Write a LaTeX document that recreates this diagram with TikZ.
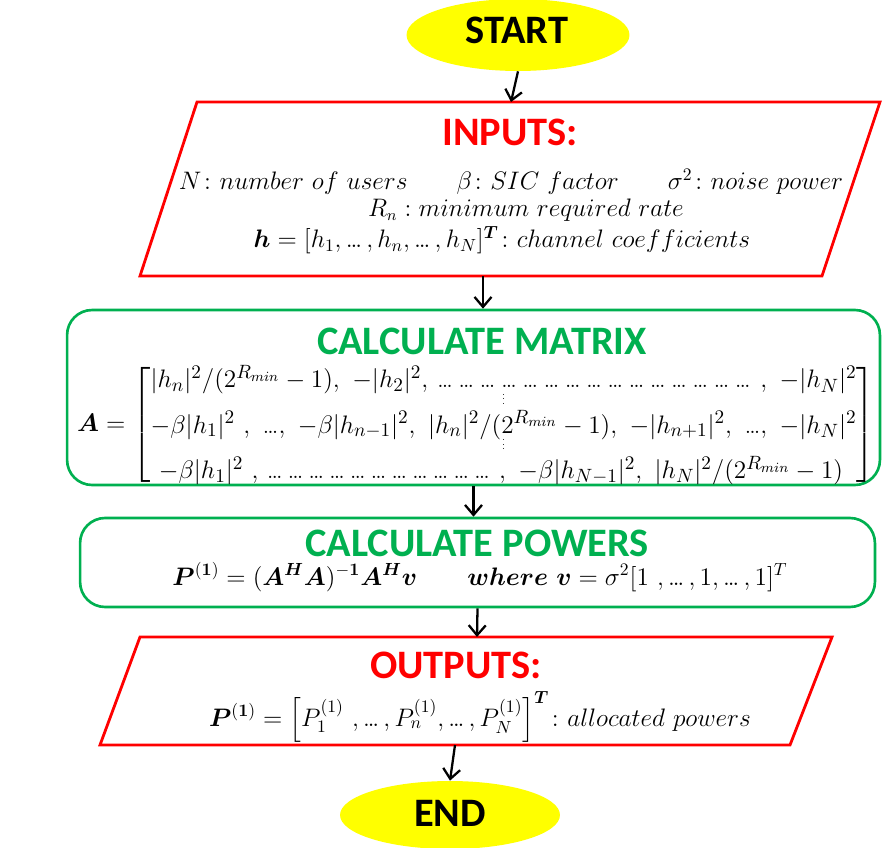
\documentclass[tikz,border=0pt]{standalone}
\usepackage{amsmath,amssymb}
\usepackage{bm}
\usepackage{fontspec}
\newfontfamily\headfont{Carlito}
\usepackage{xcolor}
\definecolor{chartred}{RGB}{255,0,0}
\definecolor{chartgreen}{RGB}{0,176,80}
\definecolor{chartyellow}{RGB}{255,255,0}
\usetikzlibrary{shapes.geometric,arrows.meta,positioning,calc}

% compact ellipsis, a row of them, and short vertical dots
\newcommand{\hd}{\text{…}}
\newcommand{\dotrun}{\xleaders\hbox{…\,}\hfill}
\newcommand{\vd}{\vbox{\baselineskip2.6pt\lineskiplimit0pt\hbox{\tiny.}\hbox{\tiny.}\hbox{\tiny.}}}

\tikzset{
  terminal/.style={ellipse,fill=chartyellow,draw=none,minimum width=4.46cm,minimum height=1.44cm,inner sep=0pt},
  termtext/.style={font=\headfont\bfseries\fontsize{23}{26}\selectfont,anchor=base,inner sep=0pt},
  ioline/.style={draw=chartred,line width=1.6pt,line join=miter},
  procbox/.style={rectangle,rounded corners=0.5cm,draw=chartgreen,line width=1.5pt,inner sep=0pt},
  iohead/.style={font=\headfont\bfseries\fontsize{23}{26}\selectfont,text=chartred,anchor=base,inner sep=0pt},
  prochead/.style={font=\headfont\bfseries\fontsize{23}{26}\selectfont,text=chartgreen,anchor=base,inner sep=0pt},
  mathline/.style={font=\fontsize{14}{17}\selectfont,anchor=base,inner sep=0pt},
  flow/.style={-{Straight Barb[length=2mm,width=3.4mm]},line width=1.3pt},
}

\begin{document}
\begin{tikzpicture}[x=0.02cm,y=-0.02cm]
\useasboundingbox (0,0) rectangle (884,847);

% terminals
\node[terminal] (start) at (518,35) {};
\node[termtext] (starttext) at (517,44) {START};
\node[terminal,minimum width=4.4cm,minimum height=1.36cm] (end) at (450,815) {};
\node[termtext] (endtext) at (450,826) {END};

% inputs
\draw[ioline] (197,102) -- (880,102) -- (822,276) -- (140,276) -- cycle;
\coordinate (intop) at (511,102);
\coordinate (inbot) at (483,276);
\node[iohead] (inputshead) at (510,146) {INPUTS:};
\node[mathline] (inputsA) at (511,190) {$N\colon number\ of\ users\qquad \beta\colon SIC\ factor\qquad \sigma^2\colon noise\ power$};
\node[mathline,font=\fontsize{13.3}{16}\selectfont] (inputsB) at (526,217) {$R_n : minimum\ required\ rate$};
\node[mathline,font=\fontsize{14.4}{17}\selectfont] (inputsC) at (502,248) {$\bm{h}=[h_1,\hd\,,h_n,\hd\,,h_N]^{\bm{T}}\colon channel\ coefficients$};

% matrix
\node[procbox,minimum width=16.26cm,minimum height=3.5cm] (calc) at (473.5,397.5) {};
\node[prochead] (calchead) at (482,354) {CALCULATE MATRIX};
\node[font=\fontsize{15.5}{17}\selectfont,inner sep=0pt] (calcmat) at (476,425) {%
$\renewcommand{\arraystretch}{0.5}\displaystyle
\bm{A}=\left[\begin{array}{@{}l@{}}
|h_n|^2/(2^{R_{min}}-1),\ -|h_2|^2,\ \dotrun,\ -|h_N|^2\\
\multicolumn{1}{c}{\vd}\\[1pt]
-\beta|h_1|^2\ ,\ \hd,\ -\beta|h_{n-1}|^2,\ |h_n|^2/(2^{R_{min}}-1),\ -|h_{n+1}|^2,\ \hd,\ -|h_N|^2\\
\multicolumn{1}{c}{\vd}\\[1pt]
\ -\beta|h_1|^2\ ,\ \dotrun,\ -\beta|h_{N-1}|^2,\ |h_N|^2/(2^{R_{min}}-1)\hspace{0.5em}
\end{array}\right]$};

% powers
\node[procbox,minimum width=15.9cm,minimum height=1.78cm] (powers) at (477.5,562.5) {};
\node[prochead] (powershead) at (477,556) {CALCULATE POWERS};
\node[mathline,font=\fontsize{14.3}{17}\selectfont] (powersmath) at (480,585) {$\bm{P}^{(\bm{1})}=(\bm{A}^{\bm{H}}\bm{A})^{-\bm{1}}\bm{A}^{\bm{H}}\bm{v}\qquad\bm{where}\ \bm{v}=\sigma^2[1\ ,\hd\,,1,\hd\,,1]^T$};

% outputs
\draw[ioline] (140,637) -- (832,637) -- (790,745) -- (100,745) -- cycle;
\coordinate (outtop) at (477,637);
\coordinate (outbot) at (455,745);
\node[iohead] (outputshead) at (456,678) {OUTPUTS:};
\node[mathline,font=\fontsize{14.2}{17}\selectfont] (outputsmath) at (480,726) {$\bm{P}^{(\bm{1})}=\Big[P_1^{(1)}\ ,\hd\,,P_n^{(1)},\hd\,,P_N^{(1)}\Big]^{\bm{T}}\colon allocated\ powers$};

% connectors
\draw[flow] (start.south) -- (intop);
\draw[flow] (inbot) -- (inbot |- calc.north);
\draw[flow] (calc.south) -- (calc.south |- powers.north);
\draw[flow] (powers.south) -- (outtop);
\draw[flow] (outbot) -- (end.north);
\end{tikzpicture}
\end{document}
